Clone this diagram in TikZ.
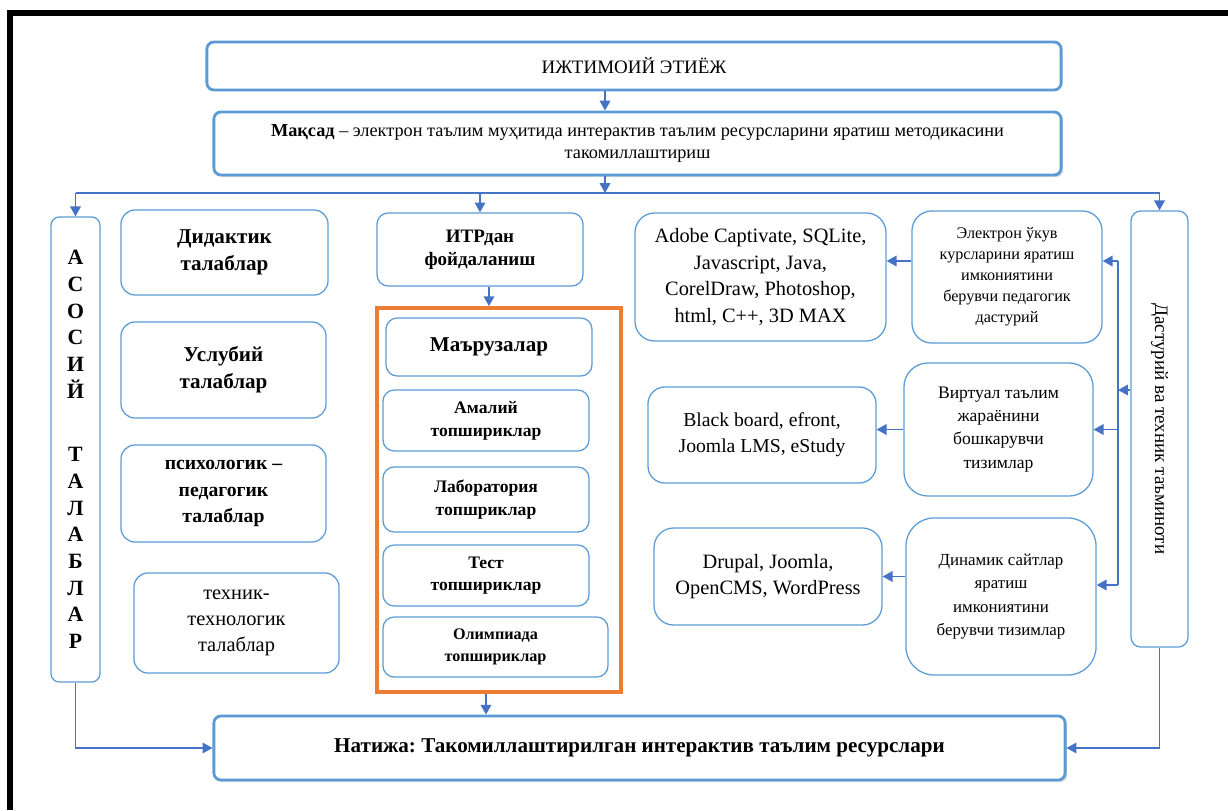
\documentclass[tikz,border=0pt]{standalone}
\usepackage{fontspec}
\setmainfont{Liberation Serif}
\frenchspacing
\usetikzlibrary{arrows.meta,shadows}

\definecolor{boxblue}{RGB}{91,155,213}
\definecolor{lineblue}{RGB}{68,114,196}
\definecolor{frameorange}{RGB}{237,125,49}

\tikzset{
  box/.style={draw=boxblue, line width=0.9pt, rounded corners=8pt, align=center, inner sep=1pt},
  mainbox/.style={draw=boxblue, line width=2pt, rounded corners=5pt, fill=white, align=center, inner sep=1pt},
  arr/.style={draw=lineblue, line width=1.1pt, -{Triangle[width=7.5pt,length=7pt]}},
  bus/.style={draw=lineblue, line width=1.1pt},
}

\begin{document}
\begin{tikzpicture}[x=0.025cm,y=-0.025cm]
\useasboundingbox (0,0) rectangle (1228,810);
%\draw[help lines,step=100] (0,0) grid (1228,810);
\draw[line width=4.3pt] (10,810) -- (10,13) -- (1228,13);

% top
\node[mainbox, minimum width=21.35cm, minimum height=1.2cm, font=\fontsize{13.5}{16}\selectfont] (etiej) at (634,66) {ИЖТИМОИЙ ЭТИЁЖ};
\node[mainbox, drop shadow={shadow xshift=1.5pt, shadow yshift=-1.5pt, opacity=0.3}, minimum width=21.175cm, minimum height=1.575cm, font=\fontsize{13}{16}\selectfont] (maqsad) at (637.5,143.5) {\textbf{Мақсад} – электрон таълим муҳитида интерактив таълим ресурсларини яратиш методикасини\\такомиллаштириш};
\coordinate (mid) at (605,193);

% left
\node[box, rounded corners=6pt, minimum width=1.225cm, minimum height=11.625cm, font=\fontsize{15.5}{19}\selectfont\bfseries] (asosiy) at (75.5,449.5) {А\\С\\О\\С\\И\\Й\\[26pt]Т\\А\\Л\\А\\Б\\Л\\А\\Р};
\node[box, rounded corners=10pt, minimum width=5.175cm, minimum height=2.125cm, font=\fontsize{15}{19}\selectfont\bfseries] (didak) at (224.5,252.5) {Дидактик\\талаблар};
\node[box, rounded corners=10pt, minimum width=5.125cm, minimum height=2.4cm, font=\fontsize{15}{19}\selectfont\bfseries] (uslub) at (223.5,370) {Услубий\\талаблар};
\node[box, rounded corners=10pt, minimum width=5.125cm, minimum height=2.425cm, font=\fontsize{14}{19}\selectfont\bfseries] (psix) at (223.5,493.5) {психологик –\\педагогик\\талаблар};
\node[box, rounded corners=10pt, minimum width=5.125cm, minimum height=2.5cm, font=\fontsize{14.5}{18.5}\selectfont] (texnik) at (236.5,623) {техник-\\технологик\\талаблар};

% middle
\node[box, minimum width=5.15cm, minimum height=1.825cm, font=\fontsize{13.5}{16.5}\selectfont\bfseries] (itr) at (480,249.5) {ИТРдан\\фойдаланиш};
\node[draw=frameorange, line width=2.6pt, minimum width=6.1cm, minimum height=9.6cm] (topshiriq) at (499,500) {};
\node[box, minimum width=5.15cm, minimum height=1.45cm, font=\fontsize{15}{18}\selectfont\bfseries] (maruza) at (489,347) {Маърузалар};
\node[box, minimum width=5.15cm, minimum height=1.525cm, font=\fontsize{12.5}{16.5}\selectfont\bfseries] (amaliy) at (486,420.5) {Амалий\\топшириклар};
\node[box, minimum width=5.15cm, minimum height=1.625cm, font=\fontsize{12.5}{16.5}\selectfont\bfseries] (labor) at (486,499.5) {Лаборатория\\топшриклар};
\node[box, minimum width=5.15cm, minimum height=1.525cm, font=\fontsize{12.5}{16}\selectfont\bfseries] (test) at (486,575.5) {Тест\\топшириклар};
\node[box, minimum width=5.625cm, minimum height=1.5cm, font=\fontsize{11.5}{15.5}\selectfont\bfseries] (olimp) at (495.5,647) {Олимпиада\\топшириклар};

% right
\node[box, rounded corners=14pt, minimum width=6.275cm, minimum height=3.2cm, font=\fontsize{14.5}{19}\selectfont] (adobe) at (760.5,277) {Adobe Captivate, SQLite,\\Javascript, Java,\\CorelDraw, Photoshop,\\html, C++, 3D MAX};
\node[box, rounded corners=14pt, minimum width=4.75cm, minimum height=3.3cm, font=\fontsize{11.5}{15}\selectfont] (elektron) at (1007,277) {Электрон ўкув\\курсларини яратиш\\имкониятини\\берувчи педагогик\\дастурий};
\node[box, rounded corners=12pt, minimum width=5.7cm, minimum height=2.4cm, font=\fontsize{14}{18.5}\selectfont] (black) at (762,435) {Black board, efront,\\Joomla LMS, eStudy};
\node[box, rounded corners=17pt, minimum width=4.725cm, minimum height=3.325cm, font=\fontsize{12.5}{16.5}\selectfont] (virtual) at (998.5,429.5) {Виртуал таълим\\жараёнини\\бошкарувчи\\тизимлар};
\node[box, rounded corners=14pt, minimum width=5.7cm, minimum height=2.425cm, font=\fontsize{14.5}{18.5}\selectfont] (drupal) at (768,576.5) {Drupal, Joomla,\\OpenCMS, WordPress};
\node[box, rounded corners=20pt, minimum width=4.75cm, minimum height=3.925cm, font=\fontsize{12}{16.5}\selectfont] (dinamik) at (1001,596.5) {Динамик сайтлар\\яратиш\\имкониятини\\берувчи тизимлар};
\node[box, rounded corners=7pt, minimum width=1.425cm, minimum height=10.9cm,
  label={[rotate=-90, font=\fontsize{13.5}{16}\selectfont]center:Дастурий ва техник таъминоти}] (dastur) at (1159.5,429) {};
\coordinate (dmid) at (1118,390);
\coordinate (t1) at (1118,261);
\coordinate (t3) at (1118,585);

% bottom
\node[mainbox, drop shadow={shadow xshift=1.5pt, shadow yshift=-1.5pt, opacity=0.3}, minimum width=21.275cm, minimum height=1.6cm, font=\fontsize{15}{18}\selectfont\bfseries] (natija) at (639.5,748) {Натижа: Такомиллаштирилган интерактив таълим ресурслари};

% arrows
\draw[arr] (etiej.south -| mid) -- (maqsad.north -| mid);
\draw[arr] (maqsad.south -| mid) -- (mid);
\draw[bus] (asosiy.north |- mid) -- (dastur.north |- mid);
\draw[arr] (asosiy.north |- mid) -- (asosiy.north);
\draw[arr] (itr.north |- mid) -- (itr.north);
\draw[arr] (dastur.north |- mid) -- (dastur.north);
\draw[arr] (itr.south -| maruza.north) -- (maruza.north |- topshiriq.north);
\draw[arr] (topshiriq.south -| amaliy) -- (amaliy |- natija.north);
\draw[arr] (asosiy.south) |- (natija.west);
\draw[arr] (dastur.south) |- (natija.east);
\draw[arr] (dastur.west |- dmid) -- (dmid);
\draw[bus] (t1) -- (t3);
\draw[arr] (t1) -- (t1 -| elektron.east);
\draw[arr] (t1 |- virtual.east) -- (virtual.east);
\draw[arr] (t3) -- (t3 -| dinamik.east);
\draw[arr] (t1 -| elektron.west) -- (t1 -| adobe.east);
\draw[arr] (virtual.west) -- (virtual.west -| black.east);
\draw[arr] (drupal.east -| dinamik.west) -- (drupal.east);
\end{tikzpicture}
\end{document}
